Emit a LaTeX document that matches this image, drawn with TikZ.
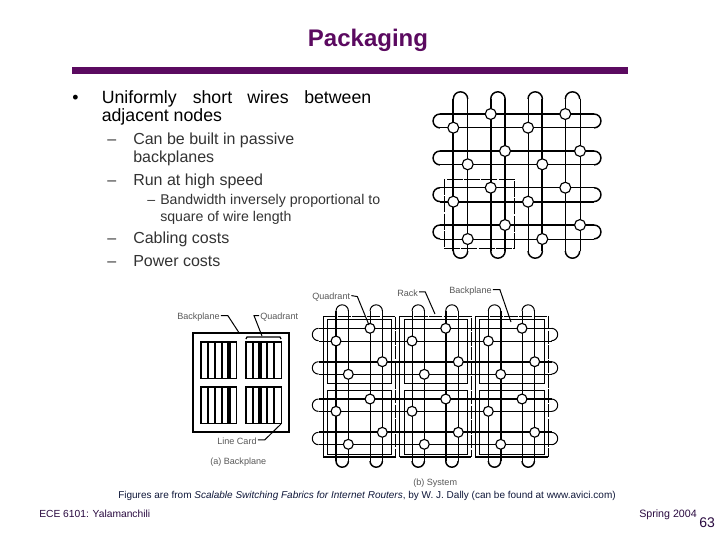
\documentclass[tikz,border=0pt]{standalone}
\usepackage{fontspec}
\setmainfont{Liberation Sans}
\definecolor{barc}{HTML}{5B0A60}
\definecolor{footc}{HTML}{2A0A40}
\definecolor{figc}{HTML}{10183A}
\tikzset{
  x=0.75pt,y=-0.75pt,
  thickw/.style={line width=1.7pt,black},
  medw/.style={line width=1.1pt,black},
  thinw/.style={line width=0.75pt,black},
  router/.style={circle,draw=black,fill=white,line width=0.85pt,minimum size=8.2pt,inner sep=0pt},
  smallrouter/.style={circle,draw=black,fill=white,line width=0.85pt,minimum size=7.4pt,inner sep=0pt},
  body/.style={inner sep=0pt,anchor=base west,font=\fontsize{13.3}{15}\selectfont,text=black},
  sub/.style={inner sep=0pt,anchor=base west,font=\fontsize{12}{14}\selectfont,text=black!80},
  subsub/.style={inner sep=0pt,anchor=base west,font=\fontsize{10.6}{12}\selectfont,text=black!80},
  foot/.style={inner sep=0pt,anchor=base west,font=\fontsize{7.7}{9}\selectfont,text=footc},
  figlabel/.style={inner sep=0pt,anchor=base west,font=\fontsize{6.8}{8}\selectfont,text=black!65},
  leader/.style={line width=0.75pt,black},
}
\begin{document}
\begin{tikzpicture}
\useasboundingbox (0,0) rectangle (720,540);
\fill[white] (0,0) rectangle (720,540);
% title
\node[inner sep=0pt,font=\bfseries\fontsize{18}{20}\selectfont,text=barc] (title) at (368,40.5) {Packaging};
\node[fill=barc,inner sep=0pt,minimum width=417pt,minimum height=5.25pt] (bar) at (350,70.3) {};
% text
\node[inner sep=0pt,anchor=base west,font=\fontsize{13.3}{15}\selectfont] (bul) at (72,103) {•};
\node[body] (t1a) at (101.5,103) {Uniformly};
\node[body] (t1b) at (192.5,103) {short};
\node[body] (t1c) at (247,103) {wires};
\node[body] (t1d) at (304,103) {between};
\node[body] (t1e) at (101.5,121.7) {adjacent nodes};
\node[sub] (d1) at (107,144) {–};
\node[sub] (s1a) at (133,144) {Can be built in passive};
\node[sub] (s1b) at (133,162) {backplanes};
\node[sub] (d2) at (107,185) {–};
\node[sub] (s2) at (133,185) {Run at high speed};
\node[subsub] (d3) at (147,204.5) {–};
\node[subsub] (s3a) at (160,204.5) {Bandwidth inversely proportional to};
\node[subsub] (s3b) at (160,221) {square of wire length};
\node[sub] (d4) at (107,243) {–};
\node[sub] (s4) at (133,243) {Cabling costs};
\node[sub] (d5) at (107,266) {–};
\node[sub] (s5) at (133,266) {Power costs};
% top torus
\foreach \xa/\xb/\sa/\sb in {453.3/467.7/thickw/thinw,490.7/505/thickw/medw,528/542.3/thinw/thickw,565.3/580/thinw/thinw}{
  \draw[medw] (\xa,99) arc[start angle=180,end angle=0,radius=5.4pt];
  \draw[\sa] (\xa,99) -- (\xa,251);
  \draw[\sb] (\xb,99) -- (\xb,251);
  \draw[medw] (\xa,251) arc[start angle=180,end angle=360,radius=5.4pt];
}
\foreach \ya/\yb/\sa/\sb in {114/127.7/thickw/thinw,151/164.3/thickw/medw,187.7/201.7/thinw/thickw,225/239/thickw/thinw}{
  \draw[\sa] (440,\ya) -- (594,\ya);
  \draw[\sb] (440,\yb) -- (594,\yb);
  \draw[medw] (440,\ya) arc[start angle=90,end angle=270,radius=5.2pt];
  \draw[medw] (594,\ya) arc[start angle=90,end angle=-90,radius=5.2pt];
}
\draw[line width=0.7pt,black,dash pattern=on 12pt off 1pt] (444,179) rectangle (514,248.3);
\foreach \n/\x/\y in {a/453.3/127.7,b/490.7/114,c/528/127.7,d/565.3/114,e/467.7/164.3,f/505/151,g/542.3/164.3,h/580/151,i/453.3/201.7,j/490.7/187.7,k/528/201.7,l/565.3/187.7,m/467.7/239,n/505/225,o/542.3/239,p/580/225}
  \node[router] (t\n) at (\x,\y) {};
% backplane
\draw[line width=1.5pt] (192.7,332.7) rectangle (289.3,432.3);
\foreach \x/\y/\tb in {200.7/341.7/4,245.7/341.7/2,200.7/386.7/4,245.7/386.7/2}{
  \draw[line width=1.2pt] (\x,\y) rectangle ++(35.7,36.8);
  \foreach \i in {1,...,4}{
    \pgfmathsetmacro\lwv{\i==\tb?2.8:1.3}
    \draw[line width=\lwv pt] (\x+7.14*\i,\y) -- ++(0,36.8);
  }
}
\draw[line width=0.9pt] (246,339) -- (247,337) -- (280,337) -- (281,339);
\node[figlabel] (lbB) at (177,319) {Backplane};
\node[figlabel] (lbQ) at (260,319) {Quadrant};
\node[figlabel] (lbL) at (217,444) {Line Card};
\node[figlabel] (lbA) at (210,464) {(a) Backplane};
\coordinate (pB) at (239,332.7);
\coordinate (pQ) at (262,336);
\coordinate (pL) at (281,424);
\draw[leader] (lbB.east)++(1,-1) -- ++(7,0) -- (pB);
\draw[leader] (lbQ.west)++(-1,-1) -- ++(-5,0) -- (pQ);
\draw[leader] (lbL.east)++(1,-1) -- ++(7,0) -- (pL);
% system
\foreach \xa/\xb/\sa/\sb in {336/348.3/thickw/thinw,370/382.3/thinw/thinw,412/424.3/thinw/thinw,445.7/458.3/thickw/thinw,488.3/500.7/thinw/thickw,522/534.7/thinw/thinw}{
  \draw[thinw] (\xa,311) arc[start angle=180,end angle=0,radius=4.65pt];
  \draw[\sa] (\xa,311) -- (\xa,461);
  \draw[\sb] (\xb,311) -- (\xb,461);
  \draw[medw] (\xa,461) arc[start angle=180,end angle=360,radius=4.65pt];
}
\foreach \ya/\yb/\sa/\sb in {328.3/341/thinw/thinw,361.7/374.3/thickw/thinw,399/411.3/thickw/thinw,432.3/444.3/thickw/thinw}{
  \draw[\sa] (318.5,\ya) -- (551.5,\ya);
  \draw[\sb] (318.5,\yb) -- (551.5,\yb);
  \draw[thinw] (318.5,\ya) arc[start angle=90,end angle=270,radius=4.65pt];
  \draw[thinw] (551.5,\ya) arc[start angle=90,end angle=-90,radius=4.65pt];
}
\foreach \xa/\xb/\xc/\xd in {323/327.3/391/395.7,399.7/404/467.3/471.3,475/479.3/544/548.3}{
  \draw[line width=0.6pt,dash pattern=on 10pt off 1pt] (\xa,316) -- (\xd,316) -- (\xd,457);
  \draw[line width=0.6pt] (\xa,316) -- (\xa,457);
  \draw[line width=1.1pt] (\xa,457) -- (\xd,457);
  \draw[line width=1.1pt] (\xb,319.3) -- (\xc,319.3);
  \draw[line width=0.7pt] (\xb,319.3) -- (\xb,383) -- (\xc,383) -- (\xc,319.3);
  \draw[line width=0.7pt] (\xb,390.7) rectangle (\xc,454);
}
\foreach \n/\x/\y in {a/336/341,b/370/328.3,c/412/341,d/445.7/328.3,e/488.3/341,f/522/328.3,
  g/348.3/374.3,h/382.3/361.7,i/424.3/374.3,j/458.3/361.7,k/500.7/374.3,l/534.7/361.7,
  m/336/411.3,n/370/399,o/412/411.3,p/445.7/399,q/488.3/411.3,r/522/399,
  s/348.3/444.3,t/382.3/432.3,u/424.3/444.3,v/458.3/432.3,w/500.7/444.3,x/534.7/432.3}
  \node[smallrouter] (s\n) at (\x,\y) {};
\node[figlabel] (lsQ) at (312,299) {Quadrant};
\node[figlabel] (lsR) at (397,296) {Rack};
\node[figlabel] (lsB) at (449,293) {Backplane};
\node[figlabel] (lsS) at (413,485) {(b) System};
\coordinate (psQ) at (369,325);
\coordinate (psR) at (435,314);
\coordinate (psB) at (511,322);
\draw[leader] (lsQ.east)++(1,-1) -- ++(6,1) -- (psQ);
\draw[leader] (lsR.east)++(1,-1) -- ++(6,0) -- (psR);
\draw[leader] (lsB.east)++(1,-1) -- ++(7,0) -- (psB);
% footer
\node[foot,font=\fontsize{7.5}{9}\selectfont,text=figc] (fig) at (118,498) {Figures are from \textit{Scalable Switching Fabrics for Internet Routers}, by W. J. Dally (can be found at www.avici.com)};
\node[foot] (ece) at (39,517) {ECE 6101: Yalamanchili};
\node[foot,font=\fontsize{8}{9}\selectfont] (spr) at (639,517) {Spring 2004};
\node[inner sep=0pt,anchor=base west,font=\fontsize{10.5}{12}\selectfont,text=footc] (pg) at (699,527.5) {63};
\end{tikzpicture}
\end{document}
